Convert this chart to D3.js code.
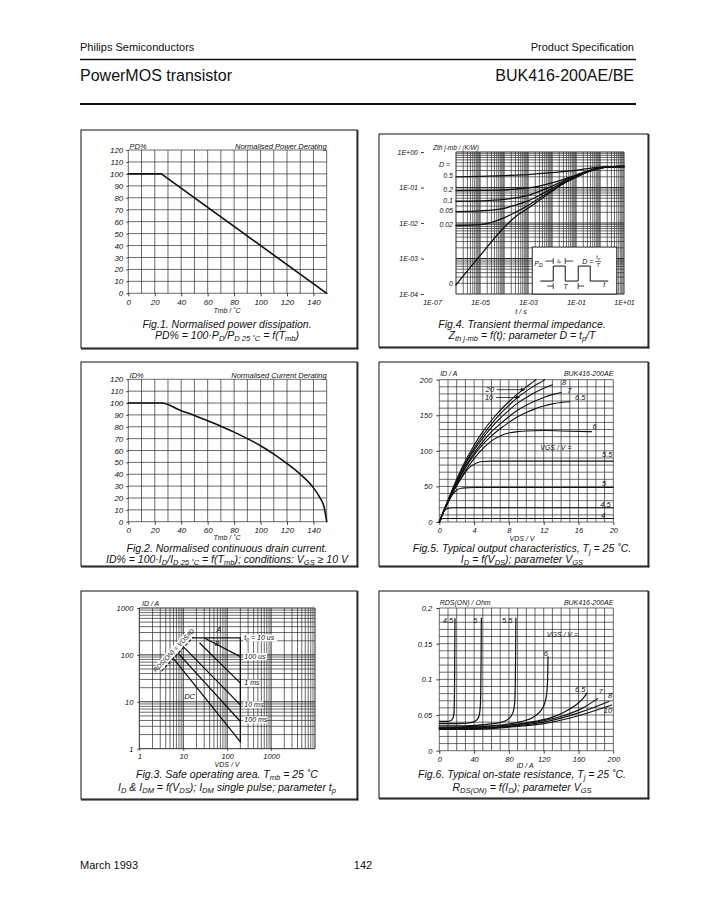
<!DOCTYPE html>
<html><head><meta charset="utf-8">
<script src="https://cdn.jsdelivr.net/npm/d3@7"></script>
<style>
body{margin:0;background:#fff;}
text{font-family:"Liberation Sans",Arial,Helvetica,sans-serif;fill:#111;}
</style></head><body>
<script>
// ================= DATA =================
// Fig.1 Normalised power derating
const pdTemp = [0, 25, 150];
const pdPct  = [100, 100, 0];
// Fig.2 Normalised current derating
const idTemp = [0, 25, 40, 50, 60, 70, 80, 90, 100, 110, 120, 130, 140, 145, 148, 150];
const idPct  = [100, 100, 93.5, 89.5, 85, 80.5, 75.5, 70, 64, 57, 49, 40, 28.5, 20, 12.5, 0];
const tempTicks = [0, 20, 40, 60, 80, 100, 120, 140];
const pctTicks  = [0, 10, 20, 30, 40, 50, 60, 70, 80, 90, 100, 110, 120];

// Fig.3 Safe operating area
const soaVTicks = [1, 10, 100, 1000];
const soaITicks = [1, 10, 100, 1000];
const soaRdsLine = [[3.2, 45], [17, 240]];
const soaLimit   = [[16.5, 230], [200, 230], [200, 1.4]];
const soaPulseNames = ["100 us", "1 ms", "10 ms", "100 ms", "DC"];
const soaPulseStart = [[31, 226], [24, 177], [10, 150], [7.7, 108], [5.9, 85]];
const soaPulseEnd   = [[200, 92], [200, 25], [200, 8.6], [200, 3.8], [200, 1.4]];
const soaLabelI     = [92, 24.9, 8.6, 4.1];

// Fig.4 Transient thermal impedance
const zthTime = [1e-6, 1e-5, 1e-4, 3e-4, 1e-3, 3e-3, 1e-2, 3e-2, 0.1, 0.3, 1, 2, 10];
const zthD05  = [0.2, 0.205, 0.215, 0.222, 0.232, 0.245, 0.262, 0.28, 0.305, 0.34, 0.375, 0.385, 0.39];
const zthD02  = [0.082, 0.083, 0.086, 0.09, 0.097, 0.11, 0.135, 0.17, 0.225, 0.29, 0.36, 0.38, 0.39];
const zthD01  = [0.041, 0.042, 0.046, 0.051, 0.06, 0.078, 0.11, 0.155, 0.215, 0.285, 0.355, 0.378, 0.39];
const zthD005 = [0.021, 0.022, 0.026, 0.032, 0.042, 0.06, 0.094, 0.142, 0.205, 0.28, 0.352, 0.377, 0.39];
const zthD002 = [0.0085, 0.009, 0.014, 0.02, 0.031, 0.05, 0.084, 0.133, 0.198, 0.275, 0.35, 0.376, 0.39];
const zthD0   = [0.00018, 0.0012, 0.0075, 0.015, 0.026, 0.044, 0.078, 0.128, 0.193, 0.272, 0.348, 0.375, 0.39];
const zthDutyLabels = ["0.5", "0.2", "0.1", "0.05", "0.02"];
const zthTimeTicks = [1e-7, 1e-5, 1e-3, 1e-1, 1e1];
const zthTicks = [1e-4, 1e-3, 1e-2, 1e-1, 1];

// Fig.5 Output characteristics (VDS [V], ID [A])
const out20  = [[0,0],[1,31],[2,60],[3,86],[4,108],[5,127],[6,143],[7,157],[8,169],[9,180],[10,190],[11,199],[11.1,200]];
const out10  = [[0,0],[1,30],[2,58],[3,83],[4,104],[5,122],[6,138],[7,152],[8,164],[9,175],[10,184],[11,192],[12,199],[12.1,200]];
const out8   = [[0,0],[1,30],[2,57],[3,81],[4,101],[5,118],[6,133],[7,146],[8,157],[9,167],[10,175],[11,182],[12,188],[13,193]];
const out7   = [[0,0],[1,29],[2,55],[3,78],[4,97],[5,113],[6,127],[7,138],[8,148],[9,157],[10,164],[11,170],[12,175],[13,179],[14,182]];
const out65  = [[0,0],[1,29],[2,54],[3,76],[4,94],[5,109],[6,121],[7,131],[8,140],[9,148],[10,154],[11,159],[12,163],[13,166],[14,168],[15,169]];
const out6   = [[0,0],[1,28],[2,52],[3,72],[4,89],[5,103],[6,114],[7,121],[8,125],[9,127],[10,128],[12,128.5],[14,128],[17.5,127]];
const out55  = [[0,0],[0.5,15],[1,28],[1.5,40],[2,51],[2.5,61],[3,70],[3.5,77],[4,81],[4.5,84],[5,85],[6,85.5],[20,85.5]];
const out5   = [[0,0],[0.5,15],[1,27],[1.5,38],[2,45],[2.5,47.5],[3,48],[4,48.5],[20,48.5]];
const out45  = [[0,0],[0.3,9],[0.6,16],[1,19],[1.5,20],[20,20]];
const out4   = [[0,0],[0.2,4],[0.5,5],[20,5]];
const outLabels = [["8",14.1,195],["7",14.7,184],["6.5",15.6,174],["6",17.6,133],["5.5",18.7,94],["5",18.7,53],["4.5",18.5,24],["4",18.6,8]];
const outVTicks = [0, 4, 8, 12, 16, 20];
const outITicks = [0, 50, 100, 150, 200];

// Fig.6 On-state resistance (ID [A], RDS(ON) [Ohm])
const ron45 = [[0,0.041],[8,0.041],[13,0.042],[15.5,0.045],[16.8,0.052],[17.3,0.07],[17.6,0.1],[17.8,0.14],[18,0.185]];
const ron5  = [[0,0.038],[20,0.038],[35,0.039],[42,0.042],[45.5,0.048],[47,0.06],[47.6,0.08],[48,0.12],[48.3,0.186]];
const ron55 = [[0,0.035],[30,0.035],[55,0.037],[72,0.04],[80,0.045],[84.5,0.053],[86.5,0.065],[87.3,0.09],[87.7,0.13],[88,0.186]];
const ron6  = [[0,0.033],[40,0.034],[70,0.036],[95,0.041],[108,0.047],[116,0.055],[121,0.066],[123.5,0.08],[124.5,0.1],[125,0.132]];
const ron65 = [[0,0.032],[40,0.033],[80,0.036],[110,0.041],[130,0.047],[145,0.055],[157,0.064],[165,0.073],[170,0.081]];
const ron7  = [[0,0.031],[40,0.032],[80,0.035],[120,0.042],[145,0.05],[165,0.06],[182,0.073]];
const ron8  = [[0,0.031],[40,0.031],[80,0.034],[120,0.04],[160,0.053],[195,0.069]];
const ron10 = [[0,0.030],[40,0.030],[80,0.033],[120,0.038],[160,0.049],[198,0.064]];
const ronLabels = [["4.5",4,0.182],["5",39,0.182],["5.5",72,0.182],["6",120,0.135],["6.5",156,0.0855],["7",183,0.082],["8",194,0.076],["10",189,0.055]];
const ronITicks = [0, 40, 80, 120, 160, 200];
const ronRTicks = [0, 0.05, 0.1, 0.15, 0.2];

// ================= DRAWING =================
const svg = d3.select("body").append("svg").attr("width", 726).attr("height", 913).style("display", "block");
const INK = "#111";
const CAP = 10.5;

function txt(parent, x, y, parts, opt = {}) {
  const size = opt.size || 7.5;
  const t = parent.append("text").attr("x", x).attr("y", y)
    .attr("font-size", size)
    .attr("font-style", opt.italic === false ? "normal" : "italic")
    .attr("text-anchor", opt.anchor || "start")
    .attr("dominant-baseline", "middle");
  if (typeof parts === "string") parts = [[parts]];
  let shifted = 0;
  parts.forEach(p => {
    const s = t.append("tspan").text(p[0]);
    if (p[1] === "sub") {
      const d = size * 0.24;
      s.attr("font-size", size * 0.72).attr("dy", d - shifted);
      shifted = d;
    } else if (shifted) {
      s.attr("dy", -shifted); shifted = 0;
    }
  });
  return t;
}

function frame(x0, y0, x1, y1) {
  svg.append("rect").attr("x", x0).attr("y", y0).attr("width", x1 - x0).attr("height", y1 - y0)
    .attr("fill", "none").attr("stroke", INK).attr("stroke-width", 1);
  svg.append("line").attr("x1", x1 + 0.8).attr("x2", x1 + 0.8).attr("y1", y0).attr("y2", y1 + 1.3)
    .attr("stroke", INK).attr("stroke-width", 1.2);
  svg.append("line").attr("x1", x0).attr("x2", x1 + 1.3).attr("y1", y1 + 0.8).attr("y2", y1 + 0.8)
    .attr("stroke", INK).attr("stroke-width", 1.2);
}

function styleAxis(sel, size) {
  sel.select(".domain").remove();
  sel.selectAll(".tick line").attr("stroke", INK).attr("stroke-width", 0.8);
  sel.selectAll(".tick text").attr("font-size", size || 7.5).attr("font-style", "italic")
    .attr("fill", INK).attr("font-family", '"Liberation Sans",Arial,sans-serif');
  sel.attr("font-size", null).attr("font-family", null);
}

function grid(g, x, y, xs, ys, xd, yd, heavyX, heavyY) {
  g.append("g").selectAll("line").data(xs).join("line")
    .attr("x1", d => x(d)).attr("x2", d => x(d)).attr("y1", y(yd[0])).attr("y2", y(yd[1]))
    .attr("stroke", "#2b2b2b").attr("stroke-width", d => heavyX && heavyX(d) ? 1 : 0.7);
  g.append("g").selectAll("line").data(ys).join("line")
    .attr("y1", d => y(d)).attr("y2", d => y(d)).attr("x1", x(xd[0])).attr("x2", x(xd[1]))
    .attr("stroke", "#2b2b2b").attr("stroke-width", d => heavyY && heavyY(d) ? 1 : 0.7);
}

function logValues(lo, hi) {
  const v = [];
  for (let e = lo; e < hi; e++) for (let k = 1; k < 10; k++) v.push(k * Math.pow(10, e));
  v.push(Math.pow(10, hi));
  return v;
}
const isDecade = d => Math.abs(Math.log10(d) - Math.round(Math.log10(d))) < 1e-9;

function curve(g, x, y, pts, w, interp) {
  g.append("path").datum(pts)
    .attr("d", d3.line().x(d => x(d[0])).y(d => y(d[1])).curve(interp || d3.curveMonotoneX))
    .attr("fill", "none").attr("stroke", INK).attr("stroke-width", w || 1.3)
    .attr("stroke-linejoin", "round").attr("stroke-linecap", "round");
}

// ---------- Header / footer ----------
txt(svg, 80, 48, "Philips Semiconductors", {size: 11, italic: false});
txt(svg, 634, 48, "Product Specification", {size: 11, italic: false, anchor: "end"});
svg.append("line").attr("x1", 80).attr("x2", 636).attr("y1", 59.5).attr("y2", 59.5).attr("stroke", INK).attr("stroke-width", 1.4);
txt(svg, 80, 77, "PowerMOS transistor", {size: 16, italic: false});
txt(svg, 634, 77, "BUK416-200AE/BE", {size: 16, italic: false, anchor: "end"});
svg.append("line").attr("x1", 80).attr("x2", 636).attr("y1", 104).attr("y2", 104).attr("stroke", INK).attr("stroke-width", 2);
txt(svg, 80, 866, "March 1993", {size: 11, italic: false});
txt(svg, 363, 866, "142", {size: 11, italic: false, anchor: "middle"});

// ---------- Fig.1 ----------
frame(81, 130, 357, 348);
{
  const g = svg.append("g");
  const x = d3.scaleLinear().domain([0, 150]).range([128.3, 326.7]);
  const y = d3.scaleLinear().domain([0, 120]).range([293.3, 150]);
  grid(g, x, y, d3.range(0, 151, 10), d3.range(0, 121, 10), [0, 150], [0, 120]);
  const ax = g.append("g").attr("transform", `translate(0,${y(0)})`)
    .call(d3.axisBottom(x).tickValues(tempTicks).tickSize(3).tickPadding(3));
  styleAxis(ax, 8);
  const ay = g.append("g").attr("transform", `translate(${x(0)},0)`)
    .call(d3.axisLeft(y).tickValues(pctTicks).tickSize(2).tickPadding(3));
  styleAxis(ay, 8);
  curve(g, x, y, pdTemp.map((t, i) => [t, pdPct[i]]), 1.6, d3.curveLinear);
  txt(g, x(1), 147, "PD%", {size: 7.5});
  txt(g, x(150), 147, "Normalised Power Derating", {size: 7.5, anchor: "end"});
  txt(g, 227, 311, "Tmb / ˚C", {size: 7, anchor: "middle"});
  txt(g, 227, 325, "Fig.1.   Normalised power dissipation.", {size: CAP, anchor: "middle"});
  txt(g, 227, 336, [["PD% = 100·P"], ["D", "sub"], ["/P"], ["D 25 ˚C", "sub"], [" = f(T"], ["mb", "sub"], [")"]], {size: CAP, anchor: "middle"});
}

// ---------- Fig.2 ----------
frame(81, 362, 357, 566);
{
  const g = svg.append("g");
  const x = d3.scaleLinear().domain([0, 150]).range([128.3, 326.7]);
  const y = d3.scaleLinear().domain([0, 120]).range([521.7, 379.3]);
  grid(g, x, y, d3.range(0, 151, 10), d3.range(0, 121, 10), [0, 150], [0, 120]);
  const ax = g.append("g").attr("transform", `translate(0,${y(0)})`)
    .call(d3.axisBottom(x).tickValues(tempTicks).tickSize(3).tickPadding(3));
  styleAxis(ax, 8);
  const ay = g.append("g").attr("transform", `translate(${x(0)},0)`)
    .call(d3.axisLeft(y).tickValues(pctTicks).tickSize(2).tickPadding(3));
  styleAxis(ay, 8);
  curve(g, x, y, idTemp.map((t, i) => [t, idPct[i]]), 1.6);
  txt(g, x(1), 376, "ID%", {size: 7.5});
  txt(g, x(150), 376, "Normalised Current Derating", {size: 7.5, anchor: "end"});
  txt(g, 227, 538, "Tmb / ˚C", {size: 7, anchor: "middle"});
  txt(g, 227, 549, "Fig.2.   Normalised continuous drain current.", {size: CAP, anchor: "middle"});
  txt(g, 227, 560, [["ID% = 100·I"], ["D", "sub"], ["/I"], ["D 25 ˚C", "sub"], [" = f(T"], ["mb", "sub"], ["); conditions: V"], ["GS", "sub"], [" ≥ 10 V"]], {size: CAP, anchor: "middle"});
}

// ---------- Fig.3 ----------
frame(81, 591, 357, 799);
{
  const g = svg.append("g");
  const x = d3.scaleLog().domain([1, 10000]).range([139.3, 315]);
  const y = d3.scaleLog().domain([1, 1000]).range([748.7, 608]);
  grid(g, x, y, logValues(0, 4), logValues(0, 3), [1, 10000], [1, 1000], isDecade, isDecade);
  const ax = g.append("g").attr("transform", `translate(0,${y(1)})`)
    .call(d3.axisBottom(x).tickValues(soaVTicks).tickSize(2).tickPadding(3).tickFormat(d => d));
  styleAxis(ax);
  const ay = g.append("g").attr("transform", `translate(${x(1)},0)`)
    .call(d3.axisLeft(y).tickValues(soaITicks).tickSize(2).tickPadding(4).tickFormat(d => d));
  styleAxis(ay);
  // RDS(ON) limit (dashed)
  g.append("path").datum(soaRdsLine)
    .attr("d", d3.line().x(d => x(d[0])).y(d => y(d[1])))
    .attr("fill", "none").attr("stroke", INK).attr("stroke-width", 1.1).attr("stroke-dasharray", "3,2");
  const rx = (x(soaRdsLine[0][0]) + x(soaRdsLine[1][0])) / 2, ry = (y(soaRdsLine[0][1]) + y(soaRdsLine[1][1])) / 2;
  const ang = Math.atan2(y(soaRdsLine[1][1]) - y(soaRdsLine[0][1]), x(soaRdsLine[1][0]) - x(soaRdsLine[0][0])) * 180 / Math.PI;
  const g2 = g.append("g").attr("transform", `translate(${rx - 3.5},${ry - 3.5}) rotate(${ang})`);
  g2.append("rect").attr("x", -23).attr("y", -4).attr("width", 46).attr("height", 8).attr("fill", "#fff");
  txt(g2, 0, 0, "RDS(ON) = VDS/ID", {size: 6.5, anchor: "middle"});
  curve(g, x, y, soaLimit, 1.3, d3.curveLinear);
  soaPulseStart.forEach((s, i) => curve(g, x, y, [s, soaPulseEnd[i]], 1.3, d3.curveLinear));
  txt(g, x(57), y(340), "A", {size: 7.5});
  txt(g, x(52), y(168), "B", {size: 7.5});
  txt(g, x(10.5), y(12.9), "DC", {size: 7.5});
  const lx = x(200) + 4;
  g.append("rect").attr("x", lx - 1).attr("y", y(230) - 3.5).attr("width", 34).attr("height", 7).attr("fill", "#fff");
  txt(g, lx, y(230), [["t"], ["p", "sub"], [" = 10 us"]], {size: 7});
  soaPulseNames.slice(0, 4).forEach((n, i) => {
    g.append("rect").attr("x", lx - 1).attr("y", y(soaLabelI[i]) - 3.5).attr("width", n.length * 3.6 + 2).attr("height", 7).attr("fill", "#fff");
    txt(g, lx, y(soaLabelI[i]), n, {size: 7});
  });
  txt(g, 142, 603.5, "ID / A", {size: 7});
  txt(g, 227, 765, "VDS / V", {size: 7, anchor: "middle"});
  txt(g, 227, 775, [["Fig.3.   Safe operating area. T"], ["mb", "sub"], [" = 25 ˚C"]], {size: CAP, anchor: "middle"});
  txt(g, 227, 788, [["I"], ["D", "sub"], [" & I"], ["DM", "sub"], [" = f(V"], ["DS", "sub"], ["); I"], ["DM", "sub"], [" single pulse; parameter t"], ["p", "sub"]], {size: CAP, anchor: "middle"});
}

// ---------- Fig.4 ----------
frame(379, 134, 648, 347);
{
  const g = svg.append("g");
  const x = d3.scaleLog().domain([1e-6, 10]).range([456, 624]);
  const y = d3.scaleLog().domain([1e-4, 1]).range([294, 152]);
  grid(g, x, y, logValues(-6, 1), logValues(-4, 0), [1e-6, 10], [1e-4, 1], isDecade, isDecade);
  const fmt = d => { const e = Math.round(Math.log10(d)); return "1E" + (e >= 0 ? "+" : "-") + String(Math.abs(e)).padStart(2, "0"); };
  const ax = g.append("g").attr("transform", `translate(0,${y(1e-4)})`)
    .call(d3.axisBottom(x).tickValues(zthTimeTicks).tickSize(0).tickPadding(6).tickFormat(fmt));
  styleAxis(ax, 7);
  const ay = g.append("g").attr("transform", `translate(424,0)`)
    .call(d3.axisLeft(y).tickValues(zthTicks).tickSize(3).tickPadding(3).tickFormat(fmt));
  styleAxis(ay, 7);
  [zthD05, zthD02, zthD01, zthD005, zthD002, zthD0].forEach(s => curve(g, x, y, zthTime.map((t, i) => [t, s[i]]), 1.3));
  // duty labels
  zthDutyLabels.forEach((l, i) => {
    const v = [zthD05, zthD02, zthD01, zthD005, zthD002][i][0];
    txt(g, 453, y(v) - 0.5, l, {size: 7, anchor: "end"});
  });
  txt(g, 439, 165, "D =", {size: 7});
  txt(g, 453, y(zthD0[0]) - 1, "0", {size: 7, anchor: "end"});
  txt(g, 433, 148, "Zth j-mb / (K/W)", {size: 6.5});
  // inset (pulse definition)
  const ix0 = x(1.5e-3), iy0 = y(2.1e-3);
  const ix1 = x(5), iy1 = y(1e-4);
  const ig = g.append("g");
  ig.append("rect").attr("x", ix0).attr("y", iy0).attr("width", ix1 - ix0).attr("height", iy1 - iy0)
    .attr("fill", "#fff").attr("stroke", INK).attr("stroke-width", 0.9);
  const px = v => ix0 + v, py = v => iy0 + v;
  const base = 34, top = 19;
  ig.append("path").attr("d",
    `M${px(8)},${py(base)} H${px(21)} V${py(top)} H${px(33)} V${py(base)} H${px(46)} V${py(top)} H${px(58)} V${py(base)} H${px(76)}`)
    .attr("fill", "none").attr("stroke", INK).attr("stroke-width", 1);
  txt(ig, px(2), py(17), [["P"], ["D", "sub"]], {size: 7});
  const arr = (xa, xb, yy) => ig.append("line").attr("x1", px(xa)).attr("x2", px(xb)).attr("y1", py(yy)).attr("y2", py(yy)).attr("stroke", INK).attr("stroke-width", 0.8);
  arr(13, 21, 14); arr(33, 41, 14); arr(15, 21, 39); arr(46, 52, 39);
  [[21, 11, 17], [33, 11, 17], [21, 36, 42], [46, 36, 42]].forEach(v =>
    ig.append("line").attr("x1", px(v[0])).attr("x2", px(v[0])).attr("y1", py(v[1])).attr("y2", py(v[2])).attr("stroke", INK).attr("stroke-width", 0.8));
  txt(ig, px(27), py(13.5), [["t"], ["p", "sub"]], {size: 6, anchor: "middle"});
  txt(ig, px(33.5), py(39.5), "T", {size: 7, anchor: "middle"});
  txt(ig, px(72), py(38), "t", {size: 7, anchor: "middle"});
  txt(ig, px(50), py(15), "D =", {size: 7});
  txt(ig, px(66), py(11), [["t"], ["p", "sub"]], {size: 5.5, anchor: "middle"});
  ig.append("line").attr("x1", px(63)).attr("x2", px(69)).attr("y1", py(14.5)).attr("y2", py(14.5)).attr("stroke", INK).attr("stroke-width", 0.6);
  txt(ig, px(66), py(18.5), "T", {size: 5.5, anchor: "middle"});
  txt(g, 521, 312, "t / s", {size: 7, anchor: "middle"});
  txt(g, 522, 325, "Fig.4.  Transient thermal impedance.", {size: CAP, anchor: "middle"});
  txt(g, 522, 336, [["Z"], ["th j-mb", "sub"], [" = f(t); parameter D = t"], ["p", "sub"], ["/T"]], {size: CAP, anchor: "middle"});
}

// ---------- Fig.5 ----------
frame(379, 362, 648, 566);
{
  const g = svg.append("g");
  const x = d3.scaleLinear().domain([0, 20]).range([439.3, 613.3]);
  const y = d3.scaleLinear().domain([0, 200]).range([522, 379.7]);
  grid(g, x, y, d3.range(0, 21, 1), d3.range(0, 201, 10), [0, 20], [0, 200]);
  const ax = g.append("g").attr("transform", `translate(0,${y(0)})`)
    .call(d3.axisBottom(x).tickValues(outVTicks).tickSize(3).tickPadding(3));
  styleAxis(ax);
  const ay = g.append("g").attr("transform", `translate(${x(0)},0)`)
    .call(d3.axisLeft(y).tickValues(outITicks).tickSize(3).tickPadding(4));
  styleAxis(ay);
  [out20, out10, out8, out7, out65, out6, out55, out5, out45, out4].forEach(c => curve(g, x, y, c, 1.1));
  outLabels.forEach(l => txt(g, x(l[1]), y(l[2]), l[0], {size: 7.5}));
  // 20 / 10 arrows
  const defs = svg.append("defs");
  defs.append("marker").attr("id", "arrowhead").attr("viewBox", "0 0 10 10").attr("refX", 9).attr("refY", 5)
    .attr("markerWidth", 7).attr("markerHeight", 5).attr("orient", "auto")
    .append("path").attr("d", "M0,0 L10,5 L0,10 z").attr("fill", INK);
  g.append("line").attr("x1", x(6.6)).attr("x2", x(9.8)).attr("y1", y(186)).attr("y2", y(186))
    .attr("stroke", INK).attr("stroke-width", 0.8).attr("marker-end", "url(#arrowhead)");
  g.append("line").attr("x1", x(6.5)).attr("x2", x(9.2)).attr("y1", y(175)).attr("y2", y(175))
    .attr("stroke", INK).attr("stroke-width", 0.8).attr("marker-end", "url(#arrowhead)");
  txt(g, x(6.3), y(185), "20", {size: 7.5, anchor: "end"});
  txt(g, x(6.2), y(174), "10", {size: 7.5, anchor: "end"});
  txt(g, x(11.6), y(104), "VGS / V =", {size: 7});
  txt(g, x(0.1), 374, "ID / A", {size: 7});
  txt(g, x(20), 374, "BUK416-200AE", {size: 7, anchor: "end"});
  txt(g, 522, 539, "VDS / V", {size: 7, anchor: "middle"});
  txt(g, 522, 549, [["Fig.5.  Typical output characteristics, T"], ["j", "sub"], [" = 25 ˚C."]], {size: CAP, anchor: "middle"});
  txt(g, 522, 560, [["I"], ["D", "sub"], [" = f(V"], ["DS", "sub"], ["); parameter V"], ["GS", "sub"]], {size: CAP, anchor: "middle"});
}

// ---------- Fig.6 ----------
frame(379, 591, 648, 798);
{
  const g = svg.append("g");
  const x = d3.scaleLinear().domain([0, 200]).range([439.3, 613.3]);
  const y = d3.scaleLinear().domain([0, 0.2]).range([750.7, 608]);
  grid(g, x, y, d3.range(0, 201, 10), d3.range(0, 21, 1).map(d => d / 100), [0, 200], [0, 0.2]);
  const ax = g.append("g").attr("transform", `translate(0,${y(0)})`)
    .call(d3.axisBottom(x).tickValues(ronITicks).tickSize(3).tickPadding(3));
  styleAxis(ax);
  const ay = g.append("g").attr("transform", `translate(${x(0)},0)`)
    .call(d3.axisLeft(y).tickValues(ronRTicks).tickSize(3).tickPadding(4).tickFormat(d => String(d)));
  styleAxis(ay);
  [ron45, ron5, ron55, ron6, ron65, ron7, ron8, ron10].forEach(c => curve(g, x, y, c, 1.2));
  ronLabels.forEach(l => txt(g, x(l[1]), y(l[2]), l[0], {size: 7.5}));
  txt(g, x(123.5), y(0.1625), "VGS / V =", {size: 7});
  txt(g, x(0.5), 603, "RDS(ON) / Ohm", {size: 7});
  txt(g, x(200), 603, "BUK416-200AE", {size: 7, anchor: "end"});
  txt(g, 525, 766, "ID / A", {size: 7, anchor: "middle"});
  txt(g, 522, 775, [["Fig.6.  Typical on-state resistance, T"], ["j", "sub"], [" = 25 ˚C."]], {size: CAP, anchor: "middle"});
  txt(g, 522, 788, [["R"], ["DS(ON)", "sub"], [" = f(I"], ["D", "sub"], ["); parameter V"], ["GS", "sub"]], {size: CAP, anchor: "middle"});
}
</script></body></html>
